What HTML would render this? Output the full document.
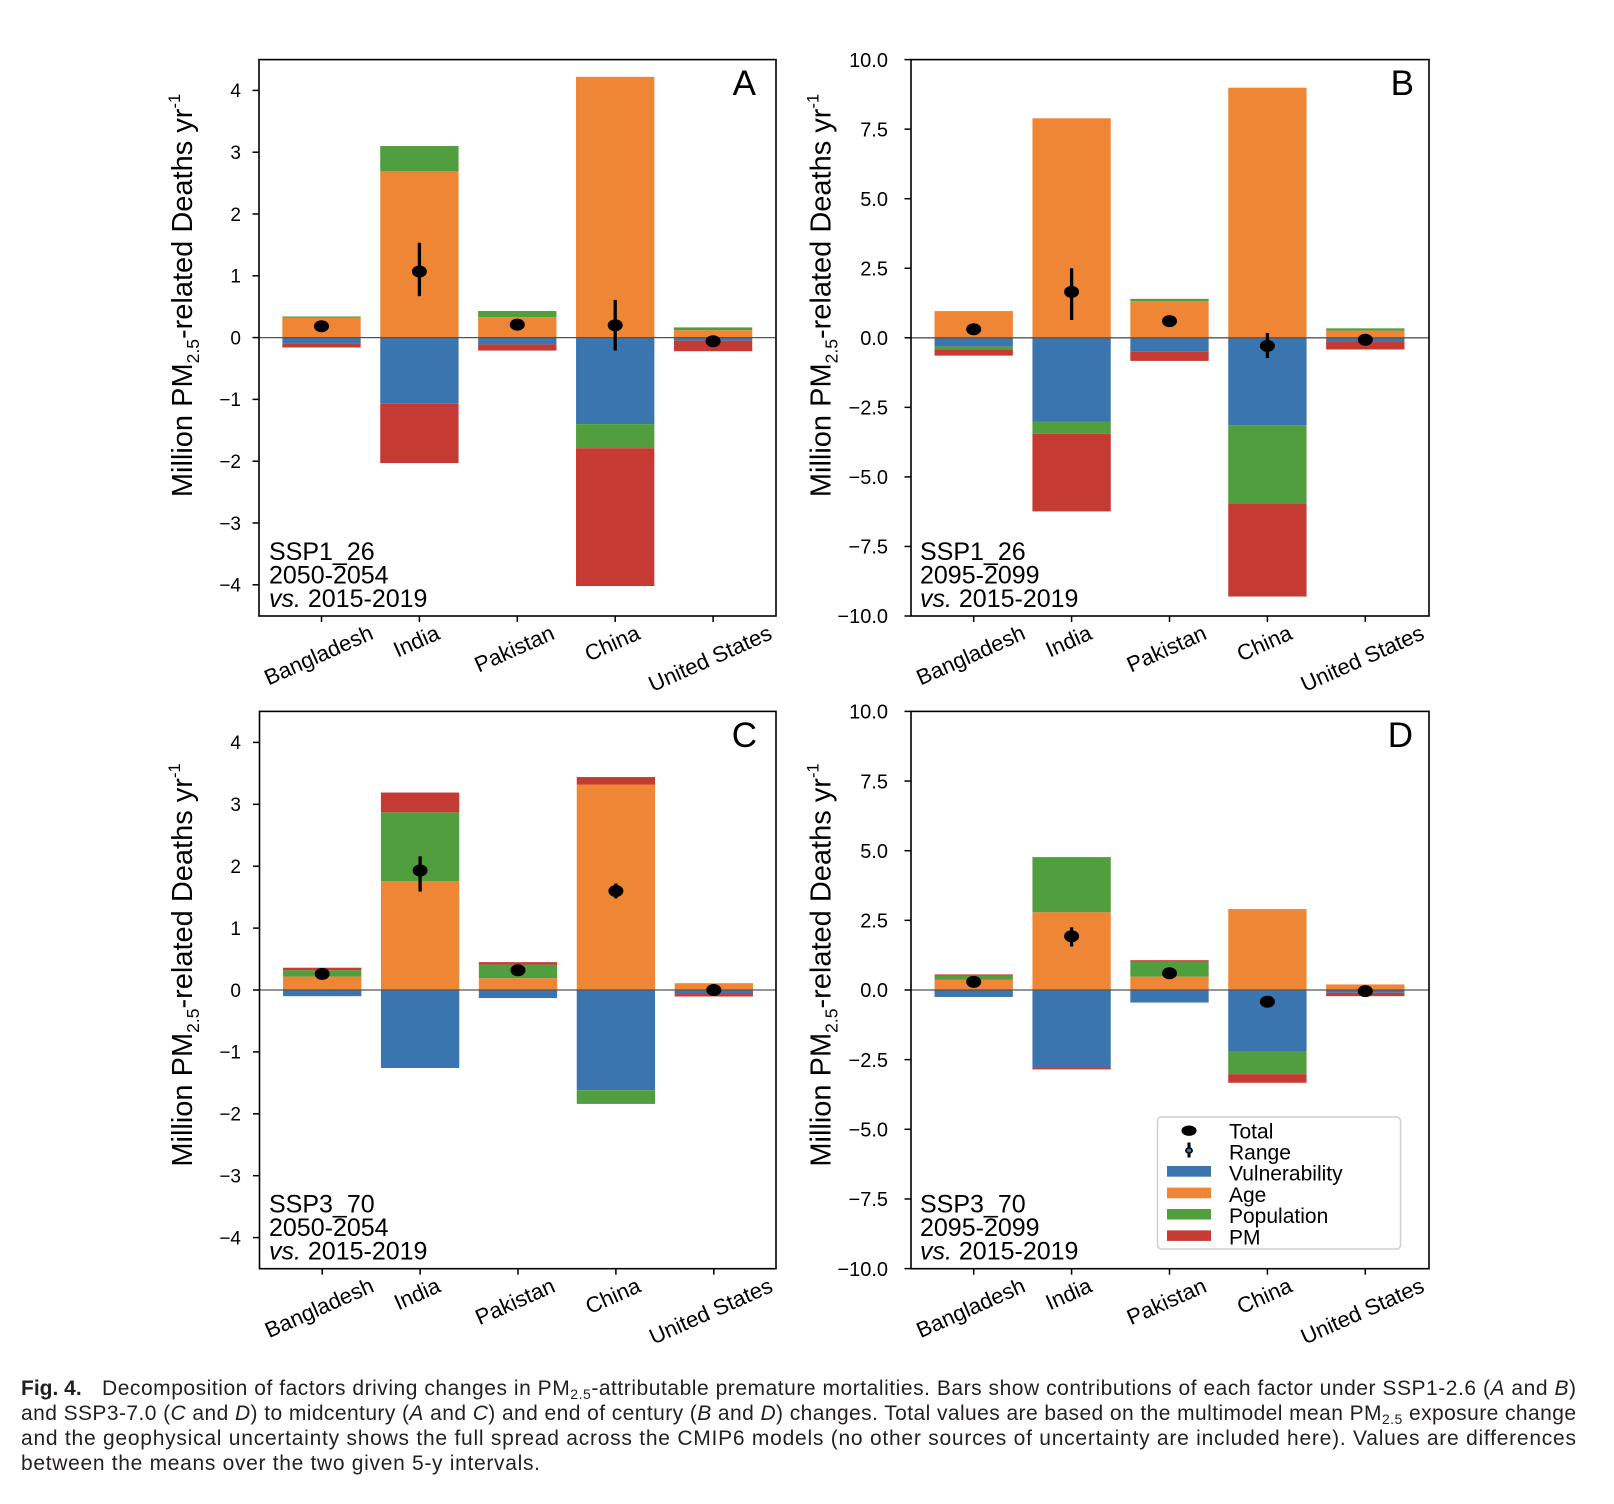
<!DOCTYPE html>
<html>
<head>
<meta charset="utf-8">
<style>
  html, body { margin: 0; padding: 0; background: #ffffff; }
  body { width: 1614px; height: 1504px; overflow: hidden; }
  svg { display: block; font-family: "Liberation Sans", Arial, sans-serif; }
</style>
</head>
<body>
<svg width="1614" height="1504" viewBox="0 0 1614 1504" xmlns="http://www.w3.org/2000/svg">
  <rect x="0" y="0" width="1614" height="1504" fill="#ffffff"/>

  <!-- ================= PANEL A ================= -->
  <g transform="translate(321.5,337.6) scale(97.9,-61.8)">
    <rect x="-0.4" y="0" width="0.8" height="0.32" fill="#ef8636"/>
    <rect x="-0.4" y="0.32" width="0.8" height="0.022" fill="#519e3e"/>
    <rect x="-0.4" y="-0.09" width="0.8" height="0.09" fill="#3b75af"/>
    <rect x="-0.4" y="-0.16" width="0.8" height="0.07" fill="#c53a32"/>
    <rect x="0.6" y="0" width="0.8" height="2.69" fill="#ef8636"/>
    <rect x="0.6" y="2.69" width="0.8" height="0.41" fill="#519e3e"/>
    <rect x="0.6" y="-1.07" width="0.8" height="1.07" fill="#3b75af"/>
    <rect x="0.6" y="-2.03" width="0.8" height="0.96" fill="#c53a32"/>
    <rect x="1.6" y="0" width="0.8" height="0.33" fill="#ef8636"/>
    <rect x="1.6" y="0.33" width="0.8" height="0.10" fill="#519e3e"/>
    <rect x="1.6" y="-0.11" width="0.8" height="0.11" fill="#3b75af"/>
    <rect x="1.6" y="-0.21" width="0.8" height="0.10" fill="#c53a32"/>
    <rect x="2.6" y="0" width="0.8" height="4.22" fill="#ef8636"/>
    <rect x="2.6" y="-1.40" width="0.8" height="1.40" fill="#3b75af"/>
    <rect x="2.6" y="-1.79" width="0.8" height="0.39" fill="#519e3e"/>
    <rect x="2.6" y="-4.02" width="0.8" height="2.23" fill="#c53a32"/>
    <rect x="3.6" y="0" width="0.8" height="0.12" fill="#ef8636"/>
    <rect x="3.6" y="0.12" width="0.8" height="0.045" fill="#519e3e"/>
    <rect x="3.6" y="-0.05" width="0.8" height="0.05" fill="#3b75af"/>
    <rect x="3.6" y="-0.22" width="0.8" height="0.17" fill="#c53a32"/>
  </g>
  <line x1="259" y1="337.6" x2="776" y2="337.6" stroke="#555555" stroke-width="1.3"/>
  <g transform="translate(321.5,337.6) scale(97.9,-61.8)" stroke="#000" fill="none">
    <line x1="1" y1="0.67" x2="1" y2="1.535" vector-effect="non-scaling-stroke" stroke-width="3.3"/>
    <line x1="3" y1="-0.21" x2="3" y2="0.61" vector-effect="non-scaling-stroke" stroke-width="3.3"/>
  </g>
  <g transform="translate(321.5,337.6)" fill="#000">
    <ellipse cx="0" cy="-11.4" rx="7.5" ry="6"/>
    <ellipse cx="97.9" cy="-66.1" rx="7.5" ry="6"/>
    <ellipse cx="195.8" cy="-13.0" rx="7.5" ry="6"/>
    <ellipse cx="293.7" cy="-12.4" rx="7.5" ry="6"/>
    <ellipse cx="391.6" cy="3.7" rx="7.5" ry="6"/>
  </g>
  <rect x="259" y="59.6" width="517" height="556.4" fill="none" stroke="#000" stroke-width="1.6"/>
  <g stroke="#000" stroke-width="1.5">
    <line x1="252.5" y1="90.4" x2="259" y2="90.4"/>
    <line x1="252.5" y1="152.2" x2="259" y2="152.2"/>
    <line x1="252.5" y1="214" x2="259" y2="214"/>
    <line x1="252.5" y1="275.8" x2="259" y2="275.8"/>
    <line x1="252.5" y1="337.6" x2="259" y2="337.6"/>
    <line x1="252.5" y1="399.4" x2="259" y2="399.4"/>
    <line x1="252.5" y1="461.2" x2="259" y2="461.2"/>
    <line x1="252.5" y1="523" x2="259" y2="523"/>
    <line x1="252.5" y1="584.8" x2="259" y2="584.8"/>
    <line x1="321.5" y1="616" x2="321.5" y2="622"/>
    <line x1="419.4" y1="616" x2="419.4" y2="622"/>
    <line x1="517.3" y1="616" x2="517.3" y2="622"/>
    <line x1="615.2" y1="616" x2="615.2" y2="622"/>
    <line x1="713.1" y1="616" x2="713.1" y2="622"/>
  </g>
  <g font-size="19" text-anchor="end" fill="#000">
    <text x="241" y="97.2">4</text>
    <text x="241" y="159">3</text>
    <text x="241" y="220.8">2</text>
    <text x="241" y="282.6">1</text>
    <text x="241" y="344.4">0</text>
    <text x="241" y="406.2">−1</text>
    <text x="241" y="468">−2</text>
    <text x="241" y="529.8">−3</text>
    <text x="241" y="591.6">−4</text>
  </g>
  <g font-size="22" text-anchor="middle" dominant-baseline="central" fill="#000">
    <text x="318.5" y="655.1" transform="rotate(-24,318.5,655.1)">Bangladesh</text>
    <text x="416.4" y="641.2" transform="rotate(-24,416.4,641.2)">India</text>
    <text x="514.3" y="648.7" transform="rotate(-24,514.3,648.7)">Pakistan</text>
    <text x="612.2" y="643.2" transform="rotate(-24,612.2,643.2)">China</text>
    <text x="710.1" y="658.4" transform="rotate(-24,710.1,658.4)">United States</text>
  </g>
  <text transform="translate(192,295.5) rotate(-90)" text-anchor="middle" font-size="29" fill="#000">Million PM<tspan font-size="17.5" dy="7">2.5</tspan><tspan dy="-7">-related Deaths yr</tspan><tspan font-size="16.5" dy="-12">-1</tspan></text>
  <text x="756" y="95" font-size="35" text-anchor="end" fill="#000">A</text>
  <g font-size="25" fill="#000">
    <text x="269" y="560">SSP1_26</text>
    <text x="269" y="583.5">2050-2054</text>
    <text x="269" y="607"><tspan font-style="italic">vs.</tspan> 2015-2019</text>
  </g>

  <!-- ================= PANEL B ================= -->
  <g transform="translate(973.7,337.8) scale(97.9,-27.82)">
    <rect x="-0.4" y="0" width="0.8" height="0.96" fill="#ef8636"/>
    <rect x="-0.4" y="-0.31" width="0.8" height="0.31" fill="#3b75af"/>
    <rect x="-0.4" y="-0.41" width="0.8" height="0.10" fill="#519e3e"/>
    <rect x="-0.4" y="-0.64" width="0.8" height="0.23" fill="#c53a32"/>
    <rect x="0.6" y="0" width="0.8" height="7.89" fill="#ef8636"/>
    <rect x="0.6" y="-3.01" width="0.8" height="3.01" fill="#3b75af"/>
    <rect x="0.6" y="-3.45" width="0.8" height="0.44" fill="#519e3e"/>
    <rect x="0.6" y="-6.24" width="0.8" height="2.79" fill="#c53a32"/>
    <rect x="1.6" y="0" width="0.8" height="1.32" fill="#ef8636"/>
    <rect x="1.6" y="1.32" width="0.8" height="0.08" fill="#519e3e"/>
    <rect x="1.6" y="-0.50" width="0.8" height="0.50" fill="#3b75af"/>
    <rect x="1.6" y="-0.83" width="0.8" height="0.33" fill="#c53a32"/>
    <rect x="2.6" y="0" width="0.8" height="8.99" fill="#ef8636"/>
    <rect x="2.6" y="-3.14" width="0.8" height="3.14" fill="#3b75af"/>
    <rect x="2.6" y="-5.95" width="0.8" height="2.81" fill="#519e3e"/>
    <rect x="2.6" y="-9.30" width="0.8" height="3.35" fill="#c53a32"/>
    <rect x="3.6" y="0" width="0.8" height="0.26" fill="#ef8636"/>
    <rect x="3.6" y="0.26" width="0.8" height="0.08" fill="#519e3e"/>
    <rect x="3.6" y="-0.13" width="0.8" height="0.13" fill="#3b75af"/>
    <rect x="3.6" y="-0.42" width="0.8" height="0.29" fill="#c53a32"/>
  </g>
  <line x1="911" y1="337.8" x2="1429" y2="337.8" stroke="#555555" stroke-width="1.3"/>
  <g transform="translate(973.7,337.8) scale(97.9,-27.82)" stroke="#000" fill="none">
    <line x1="1" y1="0.64" x2="1" y2="2.5" vector-effect="non-scaling-stroke" stroke-width="3.3"/>
    <line x1="3" y1="-0.73" x2="3" y2="0.175" vector-effect="non-scaling-stroke" stroke-width="3.3"/>
  </g>
  <g transform="translate(973.7,337.8)" fill="#000">
    <ellipse cx="0" cy="-8.6" rx="7.5" ry="6"/>
    <ellipse cx="97.9" cy="-45.9" rx="7.5" ry="6"/>
    <ellipse cx="195.8" cy="-16.7" rx="7.5" ry="6"/>
    <ellipse cx="293.7" cy="8.1" rx="7.5" ry="6"/>
    <ellipse cx="391.6" cy="1.9" rx="7.5" ry="6"/>
  </g>
  <rect x="911" y="59.6" width="518" height="556.4" fill="none" stroke="#000" stroke-width="1.6"/>
  <g stroke="#000" stroke-width="1.5">
    <line x1="904.5" y1="59.6" x2="911" y2="59.6"/>
    <line x1="904.5" y1="129.15" x2="911" y2="129.15"/>
    <line x1="904.5" y1="198.7" x2="911" y2="198.7"/>
    <line x1="904.5" y1="268.25" x2="911" y2="268.25"/>
    <line x1="904.5" y1="337.8" x2="911" y2="337.8"/>
    <line x1="904.5" y1="407.35" x2="911" y2="407.35"/>
    <line x1="904.5" y1="476.9" x2="911" y2="476.9"/>
    <line x1="904.5" y1="546.45" x2="911" y2="546.45"/>
    <line x1="904.5" y1="616" x2="911" y2="616"/>
    <line x1="973.7" y1="616" x2="973.7" y2="622"/>
    <line x1="1071.6" y1="616" x2="1071.6" y2="622"/>
    <line x1="1169.5" y1="616" x2="1169.5" y2="622"/>
    <line x1="1267.4" y1="616" x2="1267.4" y2="622"/>
    <line x1="1365.3" y1="616" x2="1365.3" y2="622"/>
  </g>
  <g font-size="20" text-anchor="end" fill="#000">
    <text x="888" y="66.8">10.0</text>
    <text x="888" y="136.35">7.5</text>
    <text x="888" y="205.9">5.0</text>
    <text x="888" y="275.45">2.5</text>
    <text x="888" y="345">0.0</text>
    <text x="888" y="414.55">−2.5</text>
    <text x="888" y="484.1">−5.0</text>
    <text x="888" y="553.65">−7.5</text>
    <text x="888" y="623.2">−10.0</text>
  </g>
  <g font-size="22" text-anchor="middle" dominant-baseline="central" fill="#000">
    <text x="970.7" y="655.1" transform="rotate(-24,970.7,655.1)">Bangladesh</text>
    <text x="1068.6" y="641.2" transform="rotate(-24,1068.6,641.2)">India</text>
    <text x="1166.5" y="648.7" transform="rotate(-24,1166.5,648.7)">Pakistan</text>
    <text x="1264.4" y="643.2" transform="rotate(-24,1264.4,643.2)">China</text>
    <text x="1362.3" y="658.4" transform="rotate(-24,1362.3,658.4)">United States</text>
  </g>
  <text transform="translate(830.5,295.5) rotate(-90)" text-anchor="middle" font-size="29" fill="#000">Million PM<tspan font-size="17.5" dy="7">2.5</tspan><tspan dy="-7">-related Deaths yr</tspan><tspan font-size="16.5" dy="-12">-1</tspan></text>
  <text x="1414" y="95" font-size="35" text-anchor="end" fill="#000">B</text>
  <g font-size="25" fill="#000">
    <text x="920" y="560">SSP1_26</text>
    <text x="920" y="583.5">2095-2099</text>
    <text x="920" y="607"><tspan font-style="italic">vs.</tspan> 2015-2019</text>
  </g>

  <!-- ================= PANEL C ================= -->
  <g transform="translate(322.2,990) scale(97.9,-61.9)">
    <rect x="-0.4" y="0" width="0.8" height="0.217" fill="#ef8636"/>
    <rect x="-0.4" y="0.217" width="0.8" height="0.103" fill="#519e3e"/>
    <rect x="-0.4" y="0.32" width="0.8" height="0.04" fill="#c53a32"/>
    <rect x="-0.4" y="-0.10" width="0.8" height="0.10" fill="#3b75af"/>
    <rect x="0.6" y="0" width="0.8" height="1.76" fill="#ef8636"/>
    <rect x="0.6" y="1.76" width="0.8" height="1.11" fill="#519e3e"/>
    <rect x="0.6" y="2.87" width="0.8" height="0.32" fill="#c53a32"/>
    <rect x="0.6" y="-1.26" width="0.8" height="1.26" fill="#3b75af"/>
    <rect x="1.6" y="0" width="0.8" height="0.19" fill="#ef8636"/>
    <rect x="1.6" y="0.19" width="0.8" height="0.22" fill="#519e3e"/>
    <rect x="1.6" y="0.41" width="0.8" height="0.04" fill="#c53a32"/>
    <rect x="1.6" y="-0.13" width="0.8" height="0.13" fill="#3b75af"/>
    <rect x="2.6" y="0" width="0.8" height="3.32" fill="#ef8636"/>
    <rect x="2.6" y="3.32" width="0.8" height="0.12" fill="#c53a32"/>
    <rect x="2.6" y="-1.62" width="0.8" height="1.62" fill="#3b75af"/>
    <rect x="2.6" y="-1.84" width="0.8" height="0.22" fill="#519e3e"/>
    <rect x="3.6" y="0" width="0.8" height="0.11" fill="#ef8636"/>
    <rect x="3.6" y="-0.065" width="0.8" height="0.065" fill="#3b75af"/>
    <rect x="3.6" y="-0.105" width="0.8" height="0.04" fill="#c53a32"/>
  </g>
  <line x1="259.5" y1="990" x2="776" y2="990" stroke="#555555" stroke-width="1.3"/>
  <g transform="translate(322.2,990) scale(97.9,-61.9)" stroke="#000" fill="none">
    <line x1="1" y1="1.59" x2="1" y2="2.16" vector-effect="non-scaling-stroke" stroke-width="3.3"/>
    <line x1="3" y1="1.48" x2="3" y2="1.72" vector-effect="non-scaling-stroke" stroke-width="3.3"/>
  </g>
  <g transform="translate(322.2,990)" fill="#000">
    <ellipse cx="0" cy="-16.1" rx="7.5" ry="6"/>
    <ellipse cx="97.9" cy="-119.5" rx="7.5" ry="6"/>
    <ellipse cx="195.8" cy="-19.8" rx="7.5" ry="6"/>
    <ellipse cx="293.7" cy="-99.0" rx="7.5" ry="6"/>
    <ellipse cx="391.6" cy="0" rx="7.5" ry="6"/>
  </g>
  <rect x="259.5" y="711.4" width="516.5" height="557.3" fill="none" stroke="#000" stroke-width="1.6"/>
  <g stroke="#000" stroke-width="1.5">
    <line x1="253" y1="742.4" x2="259.5" y2="742.4"/>
    <line x1="253" y1="804.3" x2="259.5" y2="804.3"/>
    <line x1="253" y1="866.2" x2="259.5" y2="866.2"/>
    <line x1="253" y1="928.1" x2="259.5" y2="928.1"/>
    <line x1="253" y1="990" x2="259.5" y2="990"/>
    <line x1="253" y1="1051.9" x2="259.5" y2="1051.9"/>
    <line x1="253" y1="1113.8" x2="259.5" y2="1113.8"/>
    <line x1="253" y1="1175.7" x2="259.5" y2="1175.7"/>
    <line x1="253" y1="1237.6" x2="259.5" y2="1237.6"/>
    <line x1="322.2" y1="1268.7" x2="322.2" y2="1274.7"/>
    <line x1="420.1" y1="1268.7" x2="420.1" y2="1274.7"/>
    <line x1="518" y1="1268.7" x2="518" y2="1274.7"/>
    <line x1="615.9" y1="1268.7" x2="615.9" y2="1274.7"/>
    <line x1="713.8" y1="1268.7" x2="713.8" y2="1274.7"/>
  </g>
  <g font-size="19" text-anchor="end" fill="#000">
    <text x="241" y="749.2">4</text>
    <text x="241" y="811.1">3</text>
    <text x="241" y="873">2</text>
    <text x="241" y="934.9">1</text>
    <text x="241" y="996.8">0</text>
    <text x="241" y="1058.7">−1</text>
    <text x="241" y="1120.6">−2</text>
    <text x="241" y="1182.5">−3</text>
    <text x="241" y="1244.4">−4</text>
  </g>
  <g font-size="22" text-anchor="middle" dominant-baseline="central" fill="#000">
    <text x="319.2" y="1307.8" transform="rotate(-24,319.2,1307.8)">Bangladesh</text>
    <text x="417.1" y="1293.9" transform="rotate(-24,417.1,1293.9)">India</text>
    <text x="515" y="1301.4" transform="rotate(-24,515,1301.4)">Pakistan</text>
    <text x="612.9" y="1295.9" transform="rotate(-24,612.9,1295.9)">China</text>
    <text x="710.8" y="1311.1" transform="rotate(-24,710.8,1311.1)">United States</text>
  </g>
  <text transform="translate(192,965) rotate(-90)" text-anchor="middle" font-size="29" fill="#000">Million PM<tspan font-size="17.5" dy="7">2.5</tspan><tspan dy="-7">-related Deaths yr</tspan><tspan font-size="16.5" dy="-12">-1</tspan></text>
  <text x="757" y="747" font-size="35" text-anchor="end" fill="#000">C</text>
  <g font-size="25" fill="#000">
    <text x="269" y="1212.5">SSP3_70</text>
    <text x="269" y="1236">2050-2054</text>
    <text x="269" y="1259.5"><tspan font-style="italic">vs.</tspan> 2015-2019</text>
  </g>

  <!-- ================= PANEL D ================= -->
  <g transform="translate(973.7,990) scale(97.9,-27.86)">
    <rect x="-0.4" y="0" width="0.8" height="0.365" fill="#ef8636"/>
    <rect x="-0.4" y="0.365" width="0.8" height="0.145" fill="#519e3e"/>
    <rect x="-0.4" y="0.51" width="0.8" height="0.05" fill="#c53a32"/>
    <rect x="-0.4" y="-0.25" width="0.8" height="0.25" fill="#3b75af"/>
    <rect x="0.6" y="0" width="0.8" height="2.79" fill="#ef8636"/>
    <rect x="0.6" y="2.79" width="0.8" height="1.98" fill="#519e3e"/>
    <rect x="0.6" y="-2.80" width="0.8" height="2.80" fill="#3b75af"/>
    <rect x="0.6" y="-2.85" width="0.8" height="0.05" fill="#c53a32"/>
    <rect x="1.6" y="0" width="0.8" height="0.48" fill="#ef8636"/>
    <rect x="1.6" y="0.48" width="0.8" height="0.54" fill="#519e3e"/>
    <rect x="1.6" y="1.02" width="0.8" height="0.05" fill="#c53a32"/>
    <rect x="1.6" y="-0.45" width="0.8" height="0.45" fill="#3b75af"/>
    <rect x="2.6" y="0" width="0.8" height="2.905" fill="#ef8636"/>
    <rect x="2.6" y="-2.22" width="0.8" height="2.22" fill="#3b75af"/>
    <rect x="2.6" y="-3.02" width="0.8" height="0.80" fill="#519e3e"/>
    <rect x="2.6" y="-3.33" width="0.8" height="0.31" fill="#c53a32"/>
    <rect x="3.6" y="0" width="0.8" height="0.2" fill="#ef8636"/>
    <rect x="3.6" y="-0.10" width="0.8" height="0.10" fill="#3b75af"/>
    <rect x="3.6" y="-0.22" width="0.8" height="0.12" fill="#c53a32"/>
  </g>
  <line x1="911" y1="990" x2="1429" y2="990" stroke="#555555" stroke-width="1.3"/>
  <g transform="translate(973.7,990) scale(97.9,-27.86)" stroke="#000" fill="none">
    <line x1="1" y1="1.56" x2="1" y2="2.25" vector-effect="non-scaling-stroke" stroke-width="3.3"/>
  </g>
  <g transform="translate(973.7,990)" fill="#000">
    <ellipse cx="0" cy="-8.1" rx="7.5" ry="6"/>
    <ellipse cx="97.9" cy="-53.8" rx="7.5" ry="6"/>
    <ellipse cx="195.8" cy="-16.7" rx="7.5" ry="6"/>
    <ellipse cx="293.7" cy="11.7" rx="7.5" ry="6"/>
    <ellipse cx="391.6" cy="1.1" rx="7.5" ry="6"/>
  </g>
  <rect x="911" y="711.4" width="518" height="557.3" fill="none" stroke="#000" stroke-width="1.6"/>
  <g stroke="#000" stroke-width="1.5">
    <line x1="904.5" y1="711.4" x2="911" y2="711.4"/>
    <line x1="904.5" y1="781.05" x2="911" y2="781.05"/>
    <line x1="904.5" y1="850.7" x2="911" y2="850.7"/>
    <line x1="904.5" y1="920.35" x2="911" y2="920.35"/>
    <line x1="904.5" y1="990" x2="911" y2="990"/>
    <line x1="904.5" y1="1059.65" x2="911" y2="1059.65"/>
    <line x1="904.5" y1="1129.3" x2="911" y2="1129.3"/>
    <line x1="904.5" y1="1198.95" x2="911" y2="1198.95"/>
    <line x1="904.5" y1="1268.6" x2="911" y2="1268.6"/>
    <line x1="973.7" y1="1268.7" x2="973.7" y2="1274.7"/>
    <line x1="1071.6" y1="1268.7" x2="1071.6" y2="1274.7"/>
    <line x1="1169.5" y1="1268.7" x2="1169.5" y2="1274.7"/>
    <line x1="1267.4" y1="1268.7" x2="1267.4" y2="1274.7"/>
    <line x1="1365.3" y1="1268.7" x2="1365.3" y2="1274.7"/>
  </g>
  <g font-size="20" text-anchor="end" fill="#000">
    <text x="888" y="718.6">10.0</text>
    <text x="888" y="788.25">7.5</text>
    <text x="888" y="857.9">5.0</text>
    <text x="888" y="927.55">2.5</text>
    <text x="888" y="997.2">0.0</text>
    <text x="888" y="1066.85">−2.5</text>
    <text x="888" y="1136.5">−5.0</text>
    <text x="888" y="1206.15">−7.5</text>
    <text x="888" y="1275.8">−10.0</text>
  </g>
  <g font-size="22" text-anchor="middle" dominant-baseline="central" fill="#000">
    <text x="970.7" y="1307.8" transform="rotate(-24,970.7,1307.8)">Bangladesh</text>
    <text x="1068.6" y="1293.9" transform="rotate(-24,1068.6,1293.9)">India</text>
    <text x="1166.5" y="1301.4" transform="rotate(-24,1166.5,1301.4)">Pakistan</text>
    <text x="1264.4" y="1295.9" transform="rotate(-24,1264.4,1295.9)">China</text>
    <text x="1362.3" y="1311.1" transform="rotate(-24,1362.3,1311.1)">United States</text>
  </g>
  <text transform="translate(830.5,965) rotate(-90)" text-anchor="middle" font-size="29" fill="#000">Million PM<tspan font-size="17.5" dy="7">2.5</tspan><tspan dy="-7">-related Deaths yr</tspan><tspan font-size="16.5" dy="-12">-1</tspan></text>
  <text x="1413" y="747" font-size="35" text-anchor="end" fill="#000">D</text>
  <g font-size="25" fill="#000">
    <text x="920" y="1212.5">SSP3_70</text>
    <text x="920" y="1236">2095-2099</text>
    <text x="920" y="1259.5"><tspan font-style="italic">vs.</tspan> 2015-2019</text>
  </g>

  <!-- Legend (panel D) -->
  <rect x="1157.5" y="1117" width="243" height="132" rx="4" ry="4" fill="#ffffff" fill-opacity="0.85" stroke="#d0d0d0" stroke-width="1.5"/>
  <ellipse cx="1189" cy="1130.7" rx="7.5" ry="5.2" fill="#000"/>
  <line x1="1189" y1="1142.5" x2="1189" y2="1157.5" stroke="#000" stroke-width="3"/>
  <ellipse cx="1189" cy="1150.5" rx="3.2" ry="2.6" fill="#3b75af" stroke="#000" stroke-width="1.5"/>
  <rect x="1167" y="1166" width="44" height="10.7" fill="#3b75af"/>
  <rect x="1167" y="1187.6" width="44" height="10.7" fill="#ef8636"/>
  <rect x="1167" y="1209" width="44" height="10.5" fill="#519e3e"/>
  <rect x="1167" y="1230.4" width="44" height="10.5" fill="#c53a32"/>
  <g font-size="21" fill="#000">
    <text x="1229" y="1138.3">Total</text>
    <text x="1229" y="1159.5">Range</text>
    <text x="1229" y="1180.7">Vulnerability</text>
    <text x="1229" y="1201.9">Age</text>
    <text x="1229" y="1223.1">Population</text>
    <text x="1229" y="1244.3">PM</text>
  </g>

  <!-- Caption -->
  <g font-size="21" fill="#231f20">
    <text x="21" y="1395" font-weight="bold">Fig. 4.</text>
    <text x="102" y="1395" textLength="1474" lengthAdjust="spacing">Decomposition of factors driving changes in PM<tspan font-size="14" dy="4">2.5</tspan><tspan dy="-4">-attributable premature mortalities. Bars show contributions of each factor under SSP1-2.6 (</tspan><tspan font-style="italic">A</tspan> and <tspan font-style="italic">B</tspan>)</text>
    <text x="21" y="1420" textLength="1555" lengthAdjust="spacing">and SSP3-7.0 (<tspan font-style="italic">C</tspan> and <tspan font-style="italic">D</tspan>) to midcentury (<tspan font-style="italic">A</tspan> and <tspan font-style="italic">C</tspan>) and end of century (<tspan font-style="italic">B</tspan> and <tspan font-style="italic">D</tspan>) changes. Total values are based on the multimodel mean PM<tspan font-size="14" dy="4">2.5</tspan><tspan dy="-4"> exposure change</tspan></text>
    <text x="21" y="1445" textLength="1555" lengthAdjust="spacing">and the geophysical uncertainty shows the full spread across the CMIP6 models (no other sources of uncertainty are included here). Values are differences</text>
    <text x="21" y="1470" textLength="519" lengthAdjust="spacing">between the means over the two given 5-y intervals.</text>
  </g>
</svg>
</body>
</html>
